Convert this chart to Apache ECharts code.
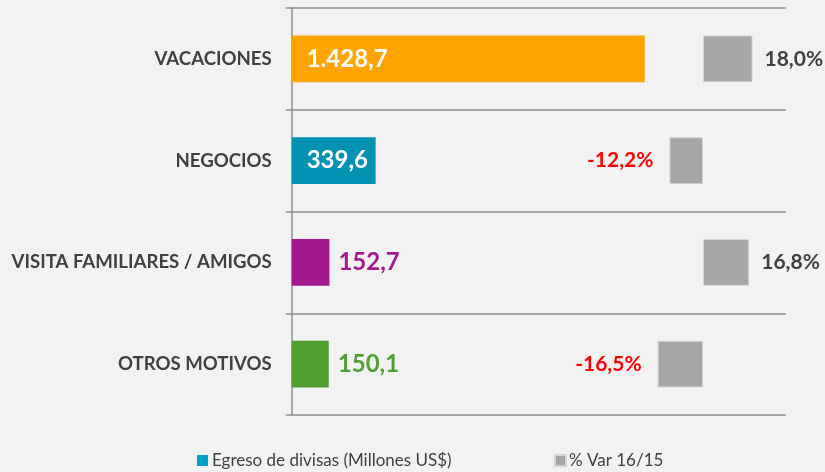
<!DOCTYPE html>
<html>
<head>
<meta charset="utf-8">
<script src="https://cdn.jsdelivr.net/npm/echarts@6/dist/echarts.min.js"></script>
<style>
  html, body { margin: 0; padding: 0; background: #f2f2f2; }
  #chart { width: 825px; height: 472px; }
</style>
</head>
<body>
<div id="chart"></div>
<script>
// datos del grafico
const categorias = ['VACACIONES', 'NEGOCIOS', 'VISITA FAMILIARES / AMIGOS', 'OTROS MOTIVOS'];
const egreso = [1428.7, 339.6, 152.7, 150.1];
const variacion = [18.0, -12.2, 16.8, -16.5];
const coloresBarras = ['#ffa400', '#0092b2', '#a3198d', '#50a031'];
const nombreEgreso = 'Egreso de divisas (Millones US$)';
const nombreVar = '% Var 16/15';

const FONT = 'Lato, "Open Sans", sans-serif';
const GRIS_TXT = '#404040';
const GRIS_LINEA = '#8f8f8f';

// formato es: 1.428,7
function fmt(v) {
    let s = Math.abs(v).toFixed(1).split('.');
    let ent = s[0].replace(/\B(?=(\d{3})+(?!\d))/g, '.');
    return (v < 0 ? '-' : '') + ent + ',' + s[1];
}

const chart = echarts.init(document.getElementById('chart'));

const dataEgreso = egreso.map((v, i) => {
    const dentro = i < 2;
    return {
        value: v,
        itemStyle: { color: coloresBarras[i] },
        label: dentro
            ? { position: 'insideLeft', distance: 15, color: '#ffffff' }
            : { position: 'right', distance: 9, color: coloresBarras[i] }
    };
});

const dataVar = variacion.map(v => ({
    value: v,
    label: v >= 0
        ? { position: 'right', distance: 12, color: GRIS_TXT }
        : { position: 'left', distance: 16, color: '#ff0000' }
}));

const option = {
    backgroundColor: '#f2f2f2',
    animation: false,
    textStyle: { fontFamily: FONT },
    legend: [
        {
            data: [{ name: nombreEgreso, itemStyle: { color: '#00a3c7' } }],
            left: 192, top: 447,
            icon: 'rect', itemWidth: 11, itemHeight: 11,
            textStyle: { fontFamily: FONT, fontSize: 17, color: GRIS_TXT, padding: [0, 0, 0, -1] },
            selectedMode: false
        },
        {
            data: [nombreVar],
            left: 549, top: 447,
            icon: 'rect', itemWidth: 11, itemHeight: 11,
            textStyle: { fontFamily: FONT, fontSize: 17, color: GRIS_TXT, padding: [0, 0, 0, -2] },
            selectedMode: false
        }
    ],
    grid: [
        { left: 291.7, top: 8, width: 494.3, height: 407 },
        { left: 620.5, top: 8, width: 165, height: 407 }
    ],
    xAxis: [
        { gridIndex: 0, type: 'value', min: 0, max: 2000, show: false },
        { gridIndex: 1, type: 'value', min: -30, max: 30, show: false }
    ],
    yAxis: [
        {
            gridIndex: 0,
            type: 'category',
            data: categorias,
            inverse: true,
            axisLine: { show: true, lineStyle: { color: GRIS_LINEA, width: 1.5 } },
            axisTick: { show: true, length: 6, lineStyle: { color: GRIS_LINEA, width: 1.5 } },
            splitLine: { show: true, lineStyle: { color: GRIS_LINEA, width: 1.5 } },
            axisLabel: {
                margin: 20,
                fontFamily: FONT,
                fontSize: 18.6,
                fontWeight: 'bold',
                color: GRIS_TXT
            }
        },
        {
            gridIndex: 1,
            type: 'category',
            data: categorias,
            inverse: true,
            show: false
        }
    ],
    series: [
        {
            name: nombreEgreso,
            type: 'bar',
            xAxisIndex: 0,
            yAxisIndex: 0,
            barWidth: '46%',
            itemStyle: { color: '#00a3c7' },
            label: {
                show: true,
                fontFamily: FONT,
                fontSize: 24,
                fontWeight: 'bold',
                formatter: p => fmt(p.value)
            },
            data: dataEgreso
        },
        {
            name: nombreVar,
            type: 'bar',
            xAxisIndex: 1,
            yAxisIndex: 1,
            barWidth: '46%',
            itemStyle: { color: '#a6a6a6', borderColor: '#d4d4d4', borderWidth: 1 },
            label: {
                show: true,
                fontFamily: FONT,
                fontSize: 21,
                fontWeight: 'bold',
                formatter: p => fmt(p.value) + '%'
            },
            data: dataVar
        }
    ]
};

chart.setOption(option);
</script>
</body>
</html>
